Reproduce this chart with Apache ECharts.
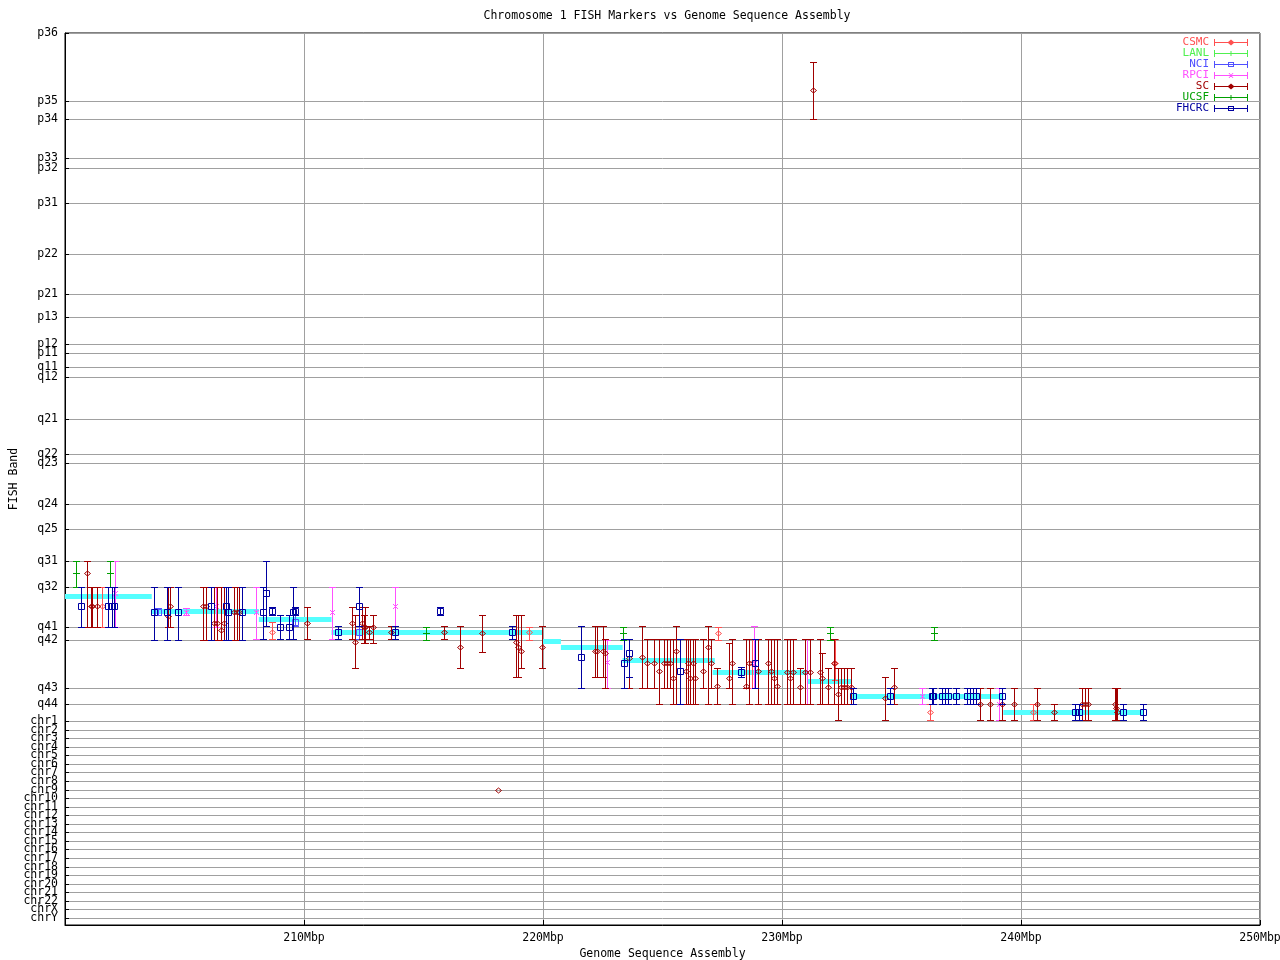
<!DOCTYPE html>
<html><head><meta charset="utf-8">
<script src="https://cdn.jsdelivr.net/npm/echarts@6/dist/echarts.min.js"></script>
<style>html,body{margin:0;padding:0;background:#fff}#c{width:1280px;height:960px}</style>
</head><body><div id="c"></div>
<script>
// ---- axis ticks (band track positions, top = 0) ----
const tickLabels = ['p36','p35','p34','p33','p32','p31','p22','p21','p13','p12','p11','q11','q12','q21','q22','q23','q24','q25','q31','q32','q41','q42','q43','q44',
  'chr1','chr2','chr3','chr4','chr5','chr6','chr7','chr8','chr9','chr10','chr11','chr12','chr13','chr14','chr15','chr16','chr17','chr18','chr19','chr20','chr21','chr22','chrX','chrY'];
const tickPos = [0,68,86,125,135,170,221,261,284,311,320,334,344,386,421,430,471,496,528,554,594,607,655,671,
  688,697,705,714,722,731,739,748,757,765,774,782,791,799,808,816,825,834,842,851,859,868,876,885];
const trackMax = 892;
const xTicks = [200,210,220,230,240,250];

// ---- markers: [Mbp, band position, band low, band high] ----
const CSMC = [[201.53,573,554,594],[208.66,599,589,606],[219.43,599,594,607],[227.34,600,594,607],[228.74,630,606,655],[232.22,630,606,647],[236.18,679,671,687],[240.52,679,671,687]];
const LANL = [];
const NCI = [[203.88,579,575,582],[209.62,589,582,593],[212.31,599,593,606]];
const RPCI = [[202.10,560,528,594],[205.07,579,575,582],[206.31,573,554,594],[207.99,579,554,606],[211.17,579,554,606],[213.81,573,554,606],[222.66,629,607,655],[228.83,630,593,655],[231.05,639,606,671],[235.87,663,655,671],[239.10,671,655,687]];
const SC = [
[200.94,540,528,594],[201.07,573,554,594],[201.13,573,554,594],[201.32,573,554,594],
[204.30,583,554,594],[204.38,573,554,594],
[205.77,573,554,607],[205.89,573,554,607],[206.23,590,554,607],[206.35,590,554,607],[206.52,597,554,607],[206.65,590,554,607],
[207.07,579,554,607],[207.19,579,554,607],[207.27,579,554,607],
[210.13,590,574,606],[212.01,590,574,606],[212.14,609,582,635],[212.43,590,574,606],[212.50,594,582,610],[212.56,594,574,610],[212.73,599,593,606],[212.89,594,582,610],[213.65,599,593,606],
[215.87,599,593,606],[216.54,614,593,635],[217.46,600,582,619],[218.13,757,757,757],
[218.89,609,582,644],[218.97,614,582,644],[219.06,618,582,635],[219.96,614,593,635],
[222.16,618,593,644],[222.26,618,593,644],[222.52,618,593,644],[222.60,620,606,655],
[223.61,625,606,655],[224.13,624,593,655],[224.34,630,606,655],[224.63,630,606,655],[224.84,638,606,671],
[225.07,630,606,655],[225.18,630,606,655],[225.30,630,606,655],[225.43,645,606,671],[225.56,618,593,671],
[225.97,638,606,671],[226.05,630,606,671],[226.14,645,606,671],[226.27,630,606,671],[226.35,645,606,671],
[226.71,638,606,655],[226.90,614,593,671],[227.02,630,606,655],[227.27,653,635,671],
[227.80,645,610,655],[227.92,630,606,671],[228.49,653,606,655],[228.62,630,606,671],[228.99,638,606,671],
[229.41,630,606,671],[229.54,638,606,671],[229.66,645,606,671],[229.79,653,606,671],
[230.21,639,606,671],[230.34,645,606,671],[230.46,639,606,671],[230.75,654,635,671],[230.96,639,606,671],[231.17,639,606,671],
[231.30,57,29,86],
[231.60,639,606,671],[231.68,645,620,671],[231.93,654,635,671],[232.18,630,606,671],[232.35,661,635,687],[232.47,654,635,671],[232.60,654,635,671],[232.72,654,635,671],[232.90,654,635,671],
[234.32,665,644,687],[234.70,654,635,671],
[238.30,671,655,687],[238.72,671,655,687],[239.22,671,655,687],[239.69,671,655,687],[240.69,671,655,687],[241.36,679,671,687],
[242.54,671,655,687],[242.66,671,655,687],[242.79,671,655,687],[243.92,671,655,687],[243.96,675,655,687],[244.00,679,655,687]
];
const UCSF = [[200.48,540,528,554],[201.87,540,528,554],[215.12,600,594,607],[223.33,600,594,607],[231.99,600,594,607],[236.37,600,594,607]];
const FHCRC = [
[200.65,573,554,594],[201.78,573,554,594],[201.95,573,554,594],[202.03,573,554,594],
[203.73,579,554,607],[204.26,579,554,607],[204.72,579,554,607],[206.10,573,554,607],[206.75,573,554,607],[206.82,579,554,607],[207.40,579,554,607],
[208.30,579,554,606],[208.41,560,528,593],[208.66,578,574,582],[208.99,594,582,606],[209.37,594,582,606],[209.54,579,554,606],[209.64,578,574,582],
[211.43,599,593,606],[212.31,573,554,593],[213.81,599,593,606],[215.70,578,574,582],[218.72,599,593,606],
[221.61,624,593,655],[223.40,630,606,655],[223.61,620,606,644],[225.74,638,606,671],[228.28,639,634,644],[228.87,630,606,655],
[232.98,663,655,671],[234.53,663,655,671],[236.29,663,655,671],[236.33,663,655,671],[236.70,663,655,671],[236.83,663,655,671],[236.96,663,655,671],[237.30,663,655,671],[237.76,663,655,671],[237.88,663,655,671],[238.01,663,655,671],[238.13,663,655,671],[239.22,663,655,671],
[242.28,679,671,687],[242.41,679,671,687],[244.25,679,671,687],[245.09,679,671,687]
];

// ---- sequence assembly segments ----
const asmStart = [200.0,203.63,208.11,211.15,220.00,220.75,223.33,227.10,231.05,232.89,239.26];
const asmEnd   = [203.63,208.11,211.15,220.00,220.75,223.33,227.19,231.05,232.89,239.26,245.13];
const asmBand  = [563,578,586,599,608,614,627,639,648,663,679];

// ---- build ----
const labelMap = {};
const labelParity = {};
tickPos.forEach((p,i)=>{ labelMap[p] = tickLabels[i]; labelParity[p] = i % 2; });
const yCats = [];
for (let i = 0; i <= trackMax; i++) yCats.push(String(i));
const isTick = (idx) => labelMap[idx] !== undefined;

const FONT = 'DejaVu Sans Mono';
const FS = 11.5;

function markerShapes(kind, x, y, color) {
  const st = {stroke: color, fill: null, lineWidth: 1};
  if (kind === 'diamond') return [{type:'polygon', shape:{points:[[x,y-2.5],[x+3,y],[x,y+2.5],[x-3,y]]}, style: st}];
  if (kind === 'square') return [{type:'rect', shape:{x:x-3,y:y-3,width:6,height:6}, style: st}];
  if (kind === 'cross') return [
    {type:'line', shape:{x1:x-2.5,y1:y-2.5,x2:x+2.5,y2:y+2.5}, style: st},
    {type:'line', shape:{x1:x+2.5,y1:y-2.5,x2:x-2.5,y2:y+2.5}, style: st}];
  return [{type:'line', shape:{x1:x-3.5,y1:y,x2:x+3.5,y2:y}, style: st}];
}

function errRender(color, kind) {
  return function (params, api) {
    const p = api.coord([api.value(0), api.value(1)]);
    const lo = api.coord([api.value(0), api.value(2)]);
    const hi = api.coord([api.value(0), api.value(3)]);
    const x = Math.round(p[0]) + 0.5;
    const y = Math.round(p[1]) + 0.5;
    const y1 = Math.round(lo[1]) + 0.5, y2 = Math.round(hi[1]) + 0.5;
    const st = {stroke: color, lineWidth: 1, fill: null};
    const ch = [];
    if (Math.abs(y2 - y1) > 0.5) {
      ch.push({type:'line', shape:{x1:x,y1:y1,x2:x,y2:y2}, style: st});
      ch.push({type:'line', shape:{x1:x-3.5,y1:y1,x2:x+3.5,y2:y1}, style: st});
      ch.push({type:'line', shape:{x1:x-3.5,y1:y2,x2:x+3.5,y2:y2}, style: st});
    }
    return {type:'group', children: ch.concat(markerShapes(kind, x, y, color))};
  };
}

const BAR = 'M0,3H34V4H0Z M0,0H1V7H0Z M33,0H34V7H33Z ';
const ICONS = {
  diamond: BAR + 'M17,0.5L20.5,3.5L17,6.5L13.5,3.5Z',
  square: BAR + 'M14,1H20V6H14Z M15,2V5H19V2Z',
  cross: BAR + 'M14.5,1L15.5,1L19.5,6L18.5,6Z M18.5,1L19.5,1L15.5,6L14.5,6Z',
  tick: BAR + 'M16.5,1H17.5V6H16.5Z'
};

const groups = [
  {name:'CSMC', data:CSMC, color:'#ff5050', kind:'diamond'},
  {name:'LANL', data:LANL, color:'#50f050', kind:'tick'},
  {name:'NCI', data:NCI, color:'#5050ff', kind:'square'},
  {name:'RPCI', data:RPCI, color:'#ff50ff', kind:'cross'},
  {name:'SC', data:SC, color:'#a00000', kind:'diamond'},
  {name:'UCSF', data:UCSF, color:'#00a000', kind:'tick'},
  {name:'FHCRC', data:FHCRC, color:'#0000a0', kind:'square'}
];

const asmData = asmStart.map((s,i)=>[s, asmBand[i], asmEnd[i]]);

const series = [{
  type:'custom', name:'assembly', z:1, silent:true, yAxisIndex:0,
  data: asmData,
  encode:{x:0, y:1},
  renderItem: function(params, api){
    const a = api.coord([api.value(0), api.value(1)]);
    const b = api.coord([api.value(2), api.value(1)]);
    return {type:'rect', shape:{x:a[0], y:Math.round(a[1])-2, width:b[0]-a[0], height:5}, style:{fill:'#55ffff'}};
  }
}].concat(groups.map(g => ({
  type:'custom', name:g.name, z:3, silent:true, color:g.color, yAxisIndex:0,
  data:g.data, encode:{x:0, y:1},
  itemStyle:{color:g.color},
  renderItem: errRender(g.color, g.kind)
})));

function yAxisFor(parity, main) {
  const ax = {
    type:'category', data:yCats, inverse:true, boundaryGap:false, position:'left', offset:0,
    axisLine:{show:main, lineStyle:{color:'#000'}},
    axisTick:{show:main, inside:true, length:4, interval:(i)=>isTick(i), lineStyle:{color:'#000'}},
    axisLabel:{fontFamily:FONT, fontSize:FS, lineHeight:7, color:'#000', margin:7,
      interval:(i)=> isTick(i) && labelParity[i] === parity,
      showMinLabel:true, showMaxLabel:true, hideOverlap:false,
      formatter:(v, i)=> labelMap[i] || ''},
    splitLine:{show:main, interval:(i)=>isTick(i), lineStyle:{color:'#a0a0a0', width:1}}
  };
  if (main) {
    Object.assign(ax, {name:'FISH Band', nameLocation:'middle', nameGap:45, nameRotate:90, nameMoveOverlap:false,
      nameTextStyle:{fontFamily:FONT, fontSize:FS, color:'#000'}});
  }
  return ax;
}

const chart = echarts.init(document.getElementById('c'), null, {renderer:'canvas'});
chart.setOption({
  animation:false,
  backgroundColor:'#ffffff',
  textStyle:{fontFamily:FONT},
  title:{text:'Chromosome 1 FISH Markers vs Genome Sequence Assembly', left:662, top:5, textAlign:'center',
    textStyle:{fontFamily:FONT, fontSize:FS, fontWeight:'normal', color:'#000'}},
  legend:{
    orient:'vertical', right:27, top:32, align:'right', itemWidth:34, itemHeight:7, itemGap:0,
    selectedMode:false,
    textStyle:{fontFamily:FONT, fontSize:11, lineHeight:11},
    data: groups.map(g => ({name:g.name, icon:'path://' + ICONS[g.kind],
      itemStyle:{color:g.color}, textStyle:{color:g.color}}))
  },
  grid:{left:65, right:20, top:33, bottom:35, outerBoundsMode:'none', containLabel:false,
    show:true, borderColor:'#000', borderWidth:1, backgroundColor:'transparent'},
  xAxis:{
    type:'value', min:xTicks[0], max:xTicks[xTicks.length-1], interval:10,
    name:'Genome Sequence Assembly', nameLocation:'middle', nameGap:23, nameMoveOverlap:false,
    nameTextStyle:{fontFamily:FONT, fontSize:FS, color:'#000'},
    axisLine:{show:true, lineStyle:{color:'#000'}},
    axisTick:{show:true, inside:true, length:5, lineStyle:{color:'#000'}},
    axisLabel:{fontFamily:FONT, fontSize:FS, color:'#000', margin:7,
      formatter: v => (v === xTicks[0] ? '' : v + 'Mbp')},
    splitLine:{show:true, lineStyle:{color:'#a0a0a0', width:1}}
  },
  yAxis:[yAxisFor(0, true), yAxisFor(1, false)],
  series: series
});
</script>
</body></html>
